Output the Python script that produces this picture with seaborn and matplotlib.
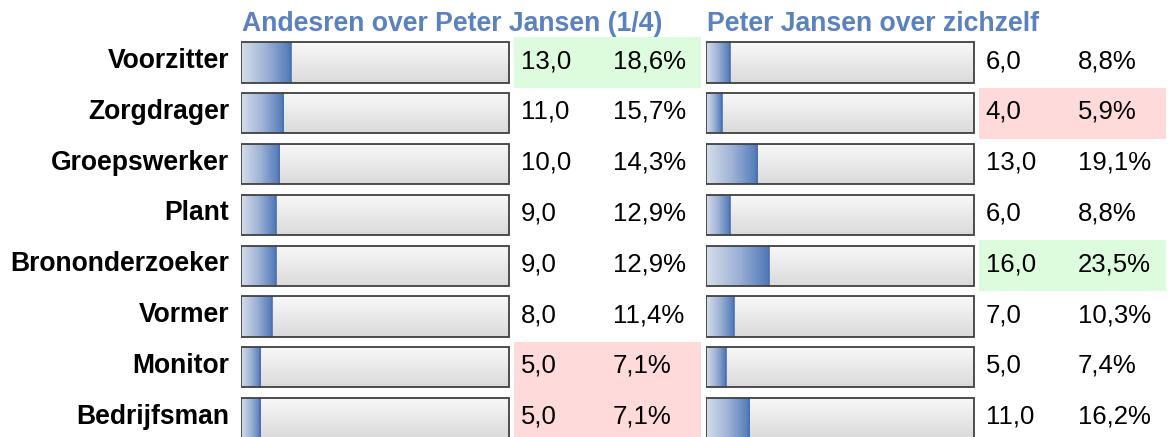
import numpy as np
import seaborn as sns
import matplotlib.pyplot as plt
from matplotlib.colors import LinearSegmentedColormap

sns.set_theme(style="white")
plt.rcParams['font.family'] = ['Liberation Sans', 'DejaVu Sans']

# data
roles = ["Voorzitter", "Zorgdrager", "Groepswerker", "Plant",
         "Brononderzoeker", "Vormer", "Monitor", "Bedrijfsman"]
andere_score = [13.0, 11.0, 10.0, 9.0, 9.0, 8.0, 5.0, 5.0]
andere_pct = [18.6, 15.7, 14.3, 12.9, 12.9, 11.4, 7.1, 7.1]
zelf_score = [6.0, 4.0, 13.0, 6.0, 16.0, 7.0, 5.0, 11.0]
zelf_pct = [8.8, 5.9, 19.1, 8.8, 23.5, 10.3, 7.4, 16.2]
titles = ["Andesren over Peter Jansen (1/4)", "Peter Jansen over zichzelf"]

W, H = 1170, 437
PX = 2.68          # pixels per percent of the bar box
XMAX = 171.5       # box (0-100) + value cells
CELL0 = 101.9
ROW_TOP, PITCH = 37.1, 50.8

title_col = "#5A81C0"
green = "#DDFBDD"
pink = "#FFDADA"
box_cmap = LinearSegmentedColormap.from_list("box", ["#F9F9F9", "#DADADA"])
fill_cmap = LinearSegmentedColormap.from_list("fill", ["#D6DFEB", "#9FB3D6", "#4F78B8"])

fig = plt.figure(figsize=(W / 100, H / 100), dpi=100)


def fmt(v):
    return "{:.1f}".format(v).replace(".", ",")


def gradient(ax, patch, cmap, vertical):
    x0, y0 = patch.get_x(), patch.get_y()
    w, h = patch.get_width(), patch.get_height()
    if w <= 0:
        return
    g = np.linspace(0, 1, 256)
    img = g.reshape(-1, 1) if vertical else g.reshape(1, -1)
    im = ax.imshow(img, extent=[x0, x0 + w, y0 + h, y0], aspect="auto",
                   cmap=cmap, zorder=patch.get_zorder() + 0.1)
    im.set_clip_path(patch)


def panel(x_left, score, pct, title, show_labels):
    n = len(roles)
    ax = fig.add_axes([x_left / W, 1 - (ROW_TOP + n * PITCH) / H,
                       XMAX * PX / W, n * PITCH / H])
    y = np.arange(n)

    # coloured cells: highest score green, lowest pink
    hi, lo = max(score), min(score)
    cell_cols = [green if s == hi else pink if s == lo else "none" for s in score]
    ax.barh(y, XMAX - CELL0, left=CELL0, height=1.0, color=cell_cols,
            linewidth=0, zorder=0)

    # grey boxes
    sns.barplot(x=[100] * n, y=roles, orient="h", width=0.79, ax=ax,
                color="#E5E5E5", linewidth=0, zorder=1)
    boxes = list(ax.patches[n:])
    for p in boxes:
        gradient(ax, p, box_cmap, vertical=True)

    # blue fills
    sns.barplot(x=pct, y=roles, orient="h", width=0.79, ax=ax,
                color="#5A80BE", linewidth=0, zorder=2)
    fills = list(ax.patches[2 * n:])
    for p in fills:
        gradient(ax, p, fill_cmap, vertical=False)
        ax.plot([p.get_x() + p.get_width()] * 2, [p.get_y(), p.get_y() + p.get_height()],
                color="#4A70AE", lw=1.2, zorder=4)

    # box outlines on top
    for p in boxes:
        ax.add_patch(plt.Rectangle((p.get_x(), p.get_y()), p.get_width(), p.get_height(),
                                   fill=False, edgecolor="#404040", lw=1.3, zorder=5))

    for i in range(n):
        ax.text(104.4, i + 0.11, fmt(score[i]), fontsize=18.5, color="black",
                ha="left", va="baseline", zorder=6)
        ax.text(138.8, i + 0.11, fmt(pct[i]) + "%", fontsize=18.5, color="black",
                ha="left", va="baseline", zorder=6)
        if show_labels:
            ax.text(-4.5, i + 0.11, roles[i], fontsize=19.1, fontweight="bold",
                    color="black", ha="right", va="baseline", clip_on=False)

    ax.text(0.4, -0.62, title, fontsize=19.2, fontweight="bold", color=title_col,
            ha="left", va="baseline", clip_on=False)

    ax.set_xlim(0, XMAX)
    ax.set_ylim(n - 0.5, -0.5)
    ax.set_xticks([])
    ax.set_yticks([])
    ax.set_xlabel("")
    ax.set_ylabel("")
    for s in ax.spines.values():
        s.set_visible(False)
    ax.patch.set_alpha(0)


panel(241, andere_score, andere_pct, titles[0], True)
panel(706, zelf_score, zelf_pct, titles[1], False)

plt.savefig("out.png", dpi=100)
